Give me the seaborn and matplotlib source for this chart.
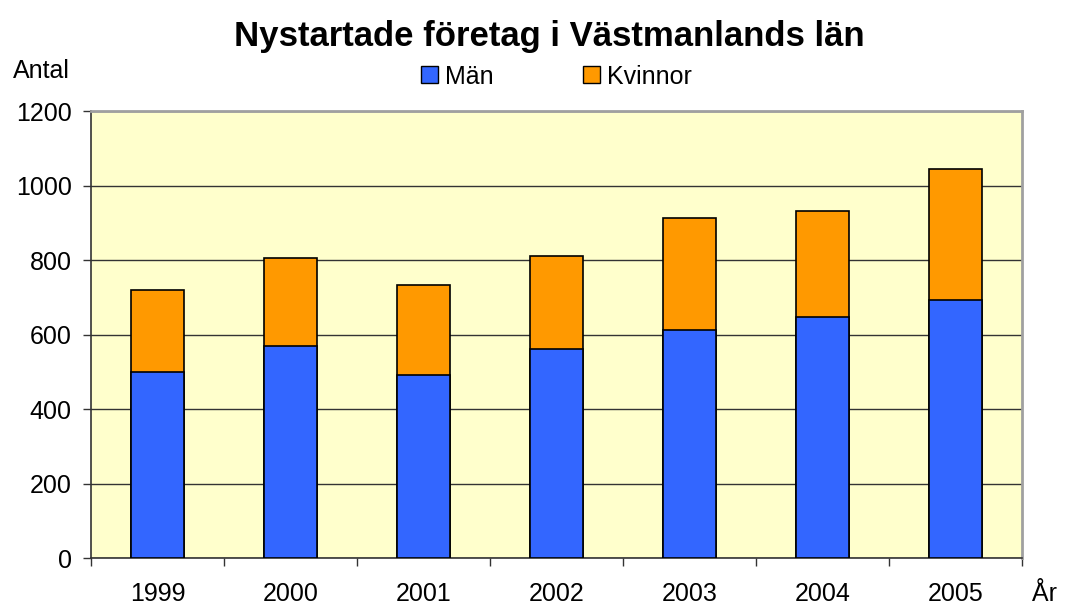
import matplotlib
matplotlib.use("Agg")
import matplotlib.pyplot as plt
import seaborn as sns
import pandas as pd
from matplotlib.patches import Patch

# Data
years = ["1999", "2000", "2001", "2002", "2003", "2004", "2005"]
man = [500, 569, 493, 563, 612, 649, 692]
kvinnor = [219, 238, 241, 249, 302, 284, 352]

df = pd.DataFrame({"year": years, "Män": man, "Kvinnor": kvinnor})
df["total"] = df["Män"] + df["Kvinnor"]

sns.set_style("white")
plt.rcParams["font.family"] = ["Liberation Sans", "DejaVu Sans"]
plt.rcParams["text.color"] = "black"
plt.rcParams["xtick.labelcolor"] = "black"
plt.rcParams["ytick.labelcolor"] = "black"

blue = "#3366FF"
orange = "#FF9900"

fig = plt.figure(figsize=(10.66, 6.04), dpi=100)
ax = fig.add_axes([0.0854, 0.0755, 0.8733, 0.7405])
ax.set_facecolor("#FFFFCC")

# stacked bars: total in orange, men drawn on top
sns.barplot(data=df, x="year", y="total", color=orange, width=0.4,
            edgecolor="black", linewidth=1.2, saturation=1, ax=ax, zorder=3)
sns.barplot(data=df, x="year", y="Män", color=blue, width=0.4,
            edgecolor="black", linewidth=1.2, saturation=1, ax=ax, zorder=4)

ax.set_ylim(0, 1200)
ax.set_xlim(-0.5, 6.5)
ax.set_yticks(range(0, 1201, 200))
ax.yaxis.grid(True, color="#333333", linewidth=1)
ax.set_axisbelow(True)

# ticks at category borders, labels centred under bars
ax.set_xticks([i - 0.5 for i in range(len(years) + 1)])
ax.set_xticklabels([])
ax.set_xticks(range(len(years)), minor=True)
ax.set_xticklabels(years, minor=True)
ax.tick_params(axis="x", which="major", direction="out", length=6, width=1, color="#333333", bottom=True)
ax.tick_params(axis="x", which="minor", length=0, pad=17, labelsize=18)
ax.tick_params(axis="y", direction="out", length=6, width=1, color="#333333", left=True, pad=8, labelsize=18)

ax.set_xlabel("")
ax.set_ylabel("")

for side in ["left", "bottom"]:
    ax.spines[side].set_color("#333333")
    ax.spines[side].set_linewidth(1.2)
for side in ["top", "right"]:
    ax.spines[side].set_color("#A0A0A0")
    ax.spines[side].set_linewidth(2)

fig.text(0.5155, 1 - 46 / 604, "Nystartade företag i Västmanlands län", ha="center", va="baseline",
         fontsize=25, fontweight="bold")
fig.text(13 / 1066, 1 - 78.5 / 604, "Antal", ha="left", va="baseline", fontsize=18)
fig.text(1032 / 1066, 3 / 604, "År", ha="left", va="baseline", fontsize=18)

handles = [Patch(facecolor=blue, edgecolor="black", label="Män"),
           Patch(facecolor=orange, edgecolor="black", label="Kvinnor")]
fig.legend(handles=handles, loc="center", bbox_to_anchor=(0.522, 0.873), ncol=2,
           frameon=False, fontsize=18, handlelength=0.67, handleheight=0.67,
           handletextpad=0.27, columnspacing=3.6, borderpad=0, borderaxespad=0)

fig.savefig("out.png", dpi=100)
